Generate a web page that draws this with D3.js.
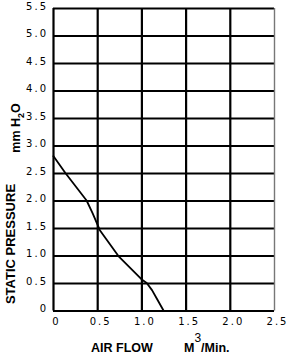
<!doctype html>
<html>
<head>
<meta charset="utf-8">
<script src="https://d3js.org/d3.v7.min.js"></script>
<style>
  body { margin: 0; background: #fff; }
  svg { display: block; }
  .tick text { font-family: "DejaVu Sans", sans-serif; font-size: 10px; letter-spacing: 2px; fill: #000; }
  .title { font-family: "Liberation Sans", Arial, sans-serif; font-weight: bold; fill: #000; }
</style>
</head>
<body>
<script>
// air flow (M3/Min.) vs static pressure (mm H2O)
var airFlow  = [0, 0.14, 0.38, 0.45, 0.53, 0.74, 1.0, 1.06, 1.12, 1.18, 1.25];
var pressure = [2.82, 2.5, 2.0, 1.76, 1.46, 0.99, 0.57, 0.50, 0.37, 0.2, 0];

var xTicks = [0, 0.5, 1.0, 1.5, 2.0, 2.5];
var yTicks = [0, 0.5, 1.0, 1.5, 2.0, 2.5, 3.0, 3.5, 4.0, 4.5, 5.0, 5.5];

var w = 288, h = 355;
// plot box (note: "top" is reserved on window)
var mLeft = 53, mRight = 274, mTop = 8, mBottom = 310.5;

var svg = d3.select("body").append("svg")
  .attr("width", w).attr("height", h);

var x = d3.scaleLinear().domain([0, 2.5]).range([mLeft, mRight]);
var y = d3.scaleLinear().domain([0, 5.5]).range([mBottom, mTop]);

var fmt = function(d) { return d === 0 ? "0" : d3.format(".1f")(d); };

// horizontal grid + y labels
var gy = svg.append("g")
  .attr("transform", "translate(" + mLeft + ",0)")
  .call(d3.axisLeft(y).tickValues(yTicks).tickFormat(fmt)
    .tickSize(-(mRight - mLeft)).tickPadding(5));
gy.select(".domain").remove();
gy.selectAll(".tick line").attr("stroke", "#000").attr("stroke-width", 2.2);
gy.selectAll(".tick text").attr("dy", "0.1em");

// vertical grid + x labels
var gx = svg.append("g")
  .attr("transform", "translate(0," + mBottom + ")")
  .call(d3.axisBottom(x).tickValues(xTicks).tickFormat(fmt)
    .tickSize(-(mBottom - mTop)).tickPadding(7));
gx.select(".domain").remove();
gx.selectAll(".tick line").attr("stroke", "#000").attr("stroke-width", 2.2);
gx.selectAll(".tick text").attr("dx", "3px");
gx.selectAll(".tick").filter(function(d) { return d === 2.5; })
  .select("line").attr("stroke", "#777").attr("stroke-width", 1.4);

// curve
var line = d3.line()
  .x(function(d, i) { return x(airFlow[i]); })
  .y(function(d) { return y(d); })
  .curve(d3.curveLinear);

svg.append("path")
  .attr("d", line(pressure))
  .attr("fill", "none")
  .attr("stroke", "#000")
  .attr("stroke-width", 1.8)
  .attr("stroke-linejoin", "round");

// axis titles
var xt = svg.append("text").attr("class", "title")
  .attr("x", 91).attr("y", 352).attr("font-size", 12.5);
xt.append("tspan").text("AIR FLOW");
xt.append("tspan").attr("x", 184).text("M");
xt.append("tspan").attr("dy", -10).attr("font-size", 12).attr("font-weight", "normal").text("3");
xt.append("tspan").attr("dy", 10).text("/Min.");

svg.append("text").attr("class", "title")
  .attr("transform", "translate(15,244) rotate(-90)")
  .attr("text-anchor", "middle")
  .attr("font-size", 13)
  .text("STATIC PRESSURE");

var yt = svg.append("text").attr("class", "title")
  .attr("transform", "translate(20,128) rotate(-90)")
  .attr("text-anchor", "middle")
  .attr("font-weight", "normal")
  .attr("font-size", 12.5);
yt.append("tspan").text("mm H");
yt.append("tspan").attr("dy", 4).attr("font-size", 9).text("2");
yt.append("tspan").attr("dy", -4).text("O");
</script>
</body>
</html>
